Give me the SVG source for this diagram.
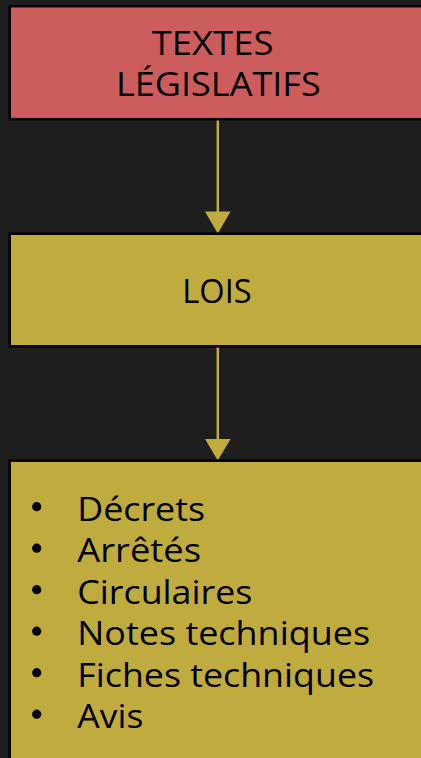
<svg xmlns="http://www.w3.org/2000/svg" width="421" height="758" viewBox="0 0 421 758">
<style>
.box{stroke:#000;stroke-width:2.5}
.red{fill:#CD5C5C}
.yel{fill:#C0AB3E}
.t{font-family:"Open Sans","Noto Sans","Liberation Sans",sans-serif;font-size:32px;fill:#000}
.edge{stroke:#C0AB3E;stroke-width:2.5;fill:none}
.head{fill:#C0AB3E}
.dot{fill:#000}
</style>
<rect x="0" y="0" width="421" height="758" fill="#1E1E1E"/>
<g id="connectors">
<line class="edge" x1="217.8" y1="120" x2="217.8" y2="212"/>
<polygon class="head" points="205,211.5 230.6,211.5 217.8,233.5"/>
<line class="edge" x1="217.8" y1="347" x2="217.8" y2="439.5"/>
<polygon class="head" points="205,439 230.6,439 217.8,460.5"/>
</g>
<g id="textes-legislatifs">
<rect class="box red" x="9.7" y="6.2" width="440" height="113"/>
<text class="t" x="151.7" y="55" textLength="121.7" lengthAdjust="spacingAndGlyphs">TEXTES</text>
<text class="t" x="116" y="96" textLength="204.7" lengthAdjust="spacingAndGlyphs">LÉGISLATIFS</text>
</g>
<g id="lois">
<rect class="box yel" x="9.7" y="233.7" width="440" height="112.6"/>
<text class="t" x="182.3" y="303.3" textLength="69.4" lengthAdjust="spacingAndGlyphs">LOIS</text>
</g>
<g id="liste">
<rect class="box yel" x="9.7" y="460.7" width="440" height="320"/>
<circle class="dot" cx="36.7" cy="506.7" r="4.6"/>
<circle class="dot" cx="36.7" cy="548.2" r="4.6"/>
<circle class="dot" cx="36.7" cy="589.7" r="4.6"/>
<circle class="dot" cx="36.7" cy="631.2" r="4.6"/>
<circle class="dot" cx="36.7" cy="672.7" r="4.6"/>
<circle class="dot" cx="36.7" cy="714.2" r="4.6"/>
<text class="t" x="77.3" y="520.7" textLength="127.7" lengthAdjust="spacingAndGlyphs">Décrets</text>
<text class="t" x="77.3" y="562.2" textLength="123.7" lengthAdjust="spacingAndGlyphs">Arrêtés</text>
<text class="t" x="77.3" y="603.7" textLength="175" lengthAdjust="spacingAndGlyphs">Circulaires</text>
<text class="t" x="77.3" y="645.2" textLength="292.7" lengthAdjust="spacingAndGlyphs">Notes techniques</text>
<text class="t" x="77.3" y="686.7" textLength="296.7" lengthAdjust="spacingAndGlyphs">Fiches techniques</text>
<text class="t" x="77.3" y="728.2" textLength="66" lengthAdjust="spacingAndGlyphs">Avis</text>
</g>
</svg>
